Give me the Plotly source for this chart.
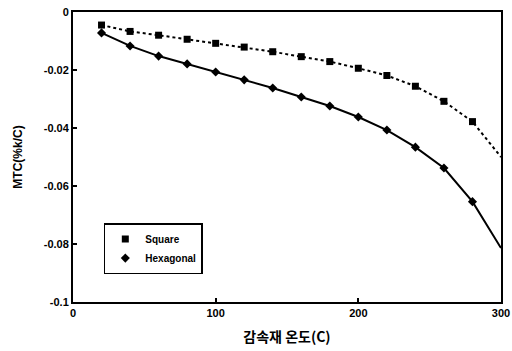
import plotly.graph_objects as go

temps = [20, 40, 60, 80, 100, 120, 140, 160, 180, 200, 220, 240, 260, 280, 300]
square_mtc = [-0.0045, -0.0067, -0.0080, -0.0094, -0.0108, -0.0121, -0.0137, -0.0154,
              -0.0171, -0.0194, -0.0219, -0.0256, -0.0308, -0.0378, -0.0500]
hex_mtc = [-0.0072, -0.0117, -0.0152, -0.0179, -0.0207, -0.0234, -0.0262, -0.0293,
           -0.0324, -0.0362, -0.0407, -0.0466, -0.0538, -0.0654, -0.0814]
x_ticks = [0, 100, 200, 300]
y_ticks = [0, -0.02, -0.04, -0.06, -0.08, -0.1]
y_tick_text = ["0", "-0.02", "-0.04", "-0.06", "-0.08", "-0.1"]

n_marked = len(temps) - 1

fig = go.Figure()
fig.add_trace(go.Scatter(x=temps, y=square_mtc, mode="lines", showlegend=False,
                         line=dict(color="black", width=2, dash="dot")))
fig.add_trace(go.Scatter(x=temps, y=hex_mtc, mode="lines", showlegend=False,
                         line=dict(color="black", width=2)))
fig.add_trace(go.Scatter(x=temps[:n_marked], y=square_mtc[:n_marked], mode="markers",
                         name="Square", marker=dict(symbol="square", size=7, color="black")))
fig.add_trace(go.Scatter(x=temps[:n_marked], y=hex_mtc[:n_marked], mode="markers",
                         name="Hexagonal", marker=dict(symbol="diamond", size=7, color="black")))

font_tick = dict(family="Liberation Sans, Arial", size=11, color="black", weight="bold")

fig.update_layout(
    width=512, height=351,
    margin=dict(l=73, r=11, t=12, b=49),
    paper_bgcolor="white", plot_bgcolor="white",
    showlegend=True,
    legend=dict(x=0.072, y=0.272, xanchor="left", yanchor="top",
                bordercolor="black", borderwidth=1.5, bgcolor="white",
                font=dict(family="Liberation Sans, Arial", size=10, color="black", weight="bold"),
                itemwidth=30, tracegroupgap=0),
    xaxis=dict(range=[0, 300], tickvals=x_ticks, ticks="inside", ticklen=4,
               tickcolor="black", tickwidth=1.5, automargin=False,
               showline=True, linecolor="black", linewidth=2, mirror=True,
               showgrid=False, zeroline=False, tickfont=font_tick,
               title=dict(text="감속재 온도(C)", standoff=14,
                          font=dict(family="Noto Sans CJK KR", size=14, color="black", weight="bold"))),
    yaxis=dict(range=[-0.1, 0], tickvals=y_ticks, ticktext=y_tick_text, ticks="inside",
               ticklen=4, tickcolor="black", tickwidth=1.5, automargin=False,
               showline=True, linecolor="black", linewidth=2, mirror=True,
               showgrid=False, zeroline=False, tickfont=font_tick,
               title=dict(text="MTC(%k/C)", standoff=19,
                          font=dict(family="Liberation Sans, Arial", size=12, color="black", weight="bold"))),
)

post = (
    "document.documentElement.style.margin='0';"
    "document.documentElement.style.overflow='hidden';"
    "document.body.style.margin='0';"
    "document.body.style.overflow='hidden';"
    "var d=document.getElementById('{plot_id}'); if(d){d.style.display='block';"
    "if(d.parentElement){d.parentElement.style.lineHeight='0';}}"
)

fig.write_html("out.html", config={"displayModeBar": False}, post_script=post)
